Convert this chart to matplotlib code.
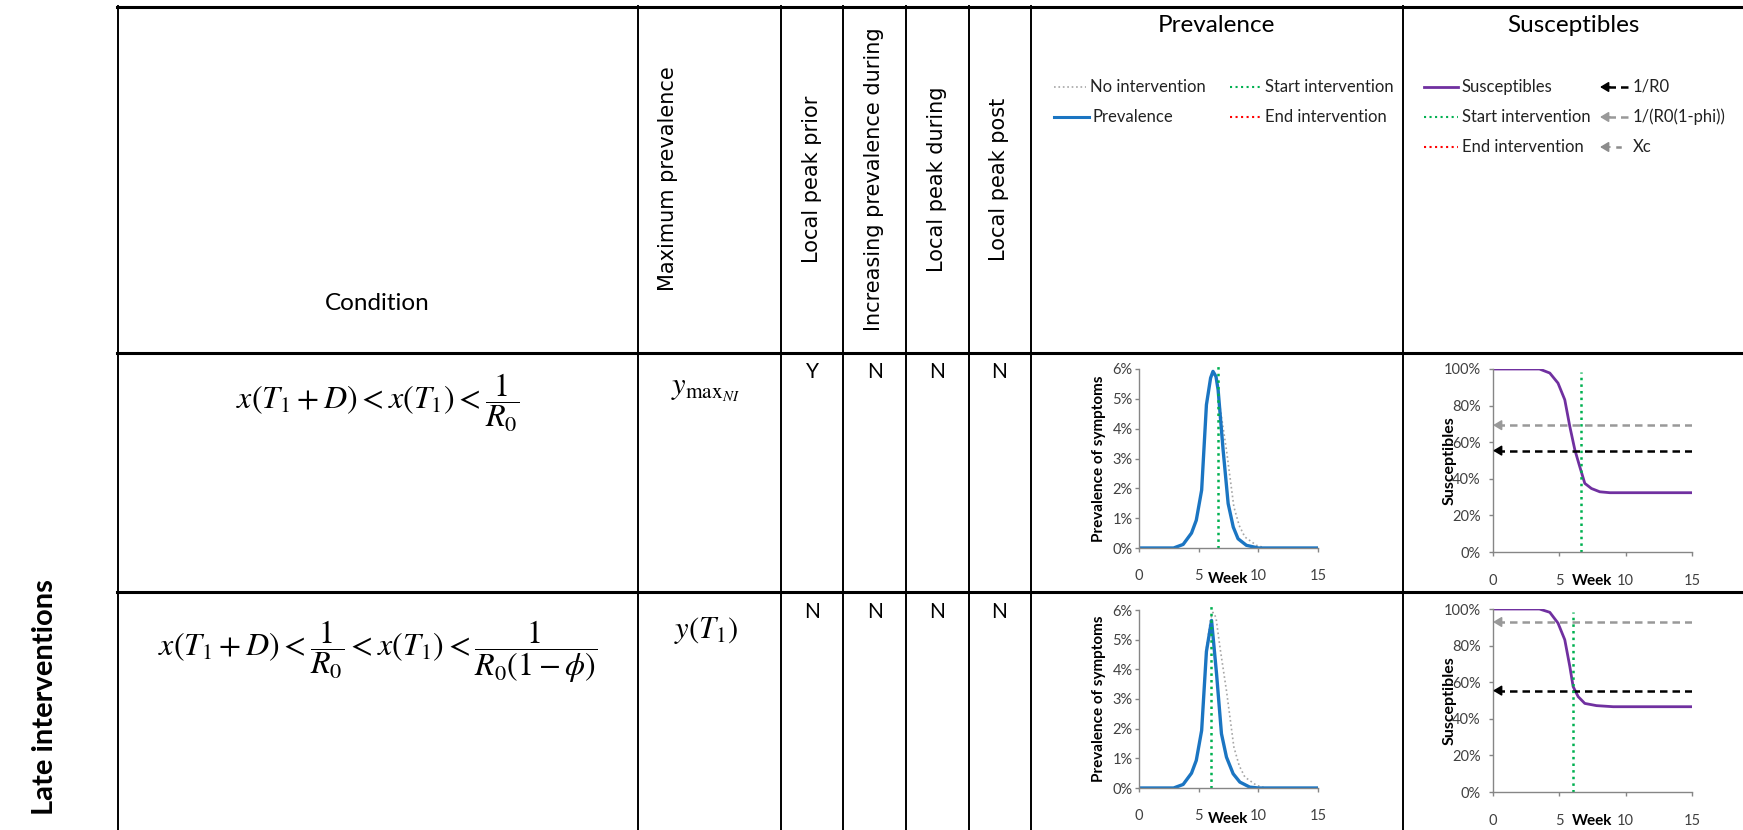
import matplotlib
matplotlib.use('Agg')
import matplotlib.pyplot as plt
from matplotlib.lines import Line2D
from matplotlib.patches import FancyArrowPatch

W, H = 1743, 830

# table text
header_cols = ['Maximum prevalence', 'Local peak prior', 'Increasing prevalence during',
               'Local peak during', 'Local peak post']
conditions = [r'$x\left(T_1+D\right)<x\left(T_1\right)<\dfrac{1}{R_0}$',
              r'$x\left(T_1+D\right)<\dfrac{1}{R_0}<x\left(T_1\right)<\dfrac{1}{R_0\left(1-\phi\right)}$']
max_prevalence = [r'$y_{\mathrm{max}_{NI}}$', r'$y\left(T_1\right)$']
flags = [['Y', 'N', 'N', 'N'],
         ['N', 'N', 'N', 'N']]
group_label = 'Late interventions'

# no intervention prevalence (%), same for both rows
ni_weeks = [0, 2.9, 3.7, 4.4, 4.8, 5.25, 5.65, 6.0, 6.2, 6.45, 6.8, 7.33, 7.95, 8.4, 8.87, 9.84, 10.6, 15]
ni_prev = [0, 0, 0.12, 0.5, 0.93, 1.94, 4.7, 5.7, 5.92, 5.75, 4.7, 3.28, 1.38, 0.75, 0.37, 0.09, 0, 0]

# prevalence with intervention (%)
prev_weeks = [[0, 2.9, 3.7, 4.4, 4.8, 5.25, 5.65, 6.0, 6.2, 6.45, 6.63, 7.05, 7.47, 7.9, 8.3, 9.0, 10.0, 15],
              [0, 2.9, 3.7, 4.4, 4.8, 5.25, 5.65, 6.08, 6.5, 6.91, 7.33, 7.89, 8.45, 9.28, 10.0, 15]]
prev_vals = [[0, 0, 0.12, 0.5, 0.93, 1.94, 4.8, 5.7, 5.92, 5.75, 5.3, 3.28, 1.49, 0.7, 0.31, 0.09, 0, 0],
             [0, 0, 0.12, 0.5, 0.93, 1.94, 4.6, 5.65, 3.84, 1.83, 1.04, 0.48, 0.2, 0.03, 0, 0]]

# susceptibles (%)
sus_weeks = [[0, 3.5, 4.28, 4.9, 5.41, 5.79, 6.17, 6.54, 6.92, 7.42, 8.05, 8.81, 15],
             [0, 3.5, 4.28, 4.9, 5.41, 5.79, 6.04, 6.42, 6.92, 7.8, 9.06, 15]]
sus_vals = [[100, 100, 97.8, 92.3, 83.2, 68.6, 55.8, 46.6, 37.5, 34.7, 32.9, 32.4, 32.4],
            [100, 100, 98.2, 92.3, 83.2, 68.6, 57.6, 52.1, 48.4, 47.2, 46.6, 46.6]]

start_week = [6.6, 6.05]
inv_r0 = [55.4, 55.4]
inv_r0_phi = [69.3, 92.9]

BLUE = '#1b75c2'
PURPLE = '#7030a0'
GREEN = '#00b050'
RED = '#ff0000'
GREY = '#a6a6a6'

plt.rcParams['mathtext.fontset'] = 'stix'
plt.rcParams['font.family'] = ['Lato', 'DejaVu Sans']

fig = plt.figure(figsize=(W / 100, H / 100), dpi=100)


def fx(x):
    return x / W


def fy(y):
    return 1 - y / H


def fline(x0, x1, y0, y1, **kw):
    fig.add_artist(Line2D([fx(x0), fx(x1)], [fy(y0), fy(y1)], transform=fig.transFigure, **kw))


# table grid
for y in [7, 353, 592]:
    fline(117, W, y, y, color='black', lw=2.2)
for x in [118, 638, 781, 843, 906, 969, 1031, 1403]:
    fline(x, x, 6, H, color='black', lw=1.4)

# header
fig.text(fx(377), fy(304), 'Condition', ha='center', va='center', fontsize=17.5)
for x, lab in zip([668, 812, 874, 937, 999], header_cols):
    fig.text(fx(x), fy(179), lab, rotation=90, ha='center', va='center',
             fontsize=15, family='DejaVu Sans')
fig.text(fx(1216), fy(25), 'Prevalence', ha='center', va='center', fontsize=17.5)
fig.text(fx(1573), fy(25), 'Susceptibles', ha='center', va='center', fontsize=17.5)
fig.text(fx(45), fy(697), group_label, rotation=90, ha='center', va='center',
         fontsize=21, fontweight='bold')


def legend_line(x0, x1, y, color, ls, lw, label):
    fline(x0, x1, y, y, color=color, ls=ls, lw=lw)
    fig.text(fx(x1 + 4), fy(y), label, ha='left', va='center', fontsize=12, color='#222222')


def legend_arrow(x0, x1, y, color, label, dot=False):
    if dot:
        fline(x0 + 17, x0 + 20, y, y, color=color, lw=1.8)
    else:
        fline(x0 + 8, x1, y, y, color=color, ls=(0, (3, 2)), lw=1.8)
    fig.add_artist(FancyArrowPatch((fx(x0 + 10), fy(y)), (fx(x0), fy(y)), transform=fig.transFigure,
                                   arrowstyle='-|>,head_length=0.5,head_width=0.3', mutation_scale=10,
                                   color=color, lw=1.2, shrinkA=0, shrinkB=0))
    fig.text(fx(x1 + 3), fy(y), label, ha='left', va='center', fontsize=12, color='#222222')


legend_line(1054, 1086, 87, GREY, ':', 1.2, 'No intervention')
legend_line(1054, 1089, 117, BLUE, '-', 2.2, 'Prevalence')
legend_line(1230, 1261, 87, GREEN, ':', 1.5, 'Start intervention')
legend_line(1230, 1261, 117, RED, ':', 1.5, 'End intervention')

legend_line(1424, 1458, 87, PURPLE, '-', 2.0, 'Susceptibles')
legend_line(1424, 1458, 117, GREEN, ':', 1.5, 'Start intervention')
legend_line(1424, 1458, 147, RED, ':', 1.5, 'End intervention')
legend_arrow(1600, 1630, 87, 'black', '1/R0')
legend_arrow(1600, 1630, 117, '#999999', '1/(R0(1-phi))')
legend_arrow(1600, 1630, 147, '#8c8c8c', 'Xc', dot=True)

# table body
row_mid = [[403, 390, 372], [652, 630, 612]]
for i in range(2):
    fig.text(fx(378), fy(row_mid[i][0]), conditions[i], ha='center', va='center', fontsize=23)
    fig.text(fx(706), fy(row_mid[i][1]), max_prevalence[i], ha='center', va='center', fontsize=22)
    for x, f in zip([812, 875, 937, 999], flags[i]):
        fig.text(fx(x), fy(row_mid[i][2]), f, ha='center', va='center', fontsize=15)


def add_box(x0, x1, y_top, y_bot):
    return fig.add_axes([fx(x0), fy(y_bot), fx(x1) - fx(x0), (y_bot - y_top) / H])


def style(ax, xpad, ypad):
    for s in ['top', 'right']:
        ax.spines[s].set_visible(False)
    for s in ['left', 'bottom']:
        ax.spines[s].set_color('#868686')
        ax.spines[s].set_linewidth(1.0)
    ax.set_facecolor('none')
    ax.tick_params(axis='both', colors='#868686', labelcolor='#404040', length=3, width=1, labelsize=10.5)
    ax.tick_params(axis='x', pad=xpad)
    ax.tick_params(axis='y', pad=ypad)
    ax.set_xlim(0, 15)
    ax.set_xticks([0, 5, 10, 15])


prev_boxes = [(369, 548), (610, 788)]
sus_boxes = [(369, 552), (609, 792)]

for i in range(2):
    ax = add_box(1139, 1318, *prev_boxes[i])
    style(ax, 12, 1.5)
    ax.plot(ni_weeks, ni_prev, color=GREY, ls=':', lw=1.2)
    ax.plot(prev_weeks[i], prev_vals[i], color=BLUE, lw=2.4)
    ax.axvline(start_week[i], ymin=0, ymax=1.02, color=GREEN, ls=':', lw=1.8, clip_on=False)
    ax.set_ylim(0, 6)
    ax.set_yticks(range(7))
    ax.set_yticklabels([f'{v}%' for v in range(7)])
    ax.text(0.5, -0.175, 'Week', transform=ax.transAxes, ha='center', va='center',
            fontsize=11, fontweight='bold')
    ax.text(-0.225, 0.5, 'Prevalence of symptoms', transform=ax.transAxes, rotation=90,
            ha='center', va='center', fontsize=11, fontweight='bold')

    ax = add_box(1493, 1692, *sus_boxes[i])
    style(ax, 13, 6)
    ax.plot(sus_weeks[i], sus_vals[i], color=PURPLE, lw=2.0)
    for y, c in [(inv_r0_phi[i], '#999999'), (inv_r0[i], 'black')]:
        ax.plot([0.3, 15], [y, y], color=c, ls=(0, (3, 2)), lw=1.8)
        ax.annotate('', xy=(0, y), xytext=(0.5, y),
                    arrowprops=dict(arrowstyle='-|>,head_length=0.5,head_width=0.3', color=c,
                                    lw=1.2, shrinkA=0, shrinkB=0))
    ax.axvline(start_week[i], ymin=0, ymax=0.985, color=GREEN, ls=':', lw=1.8)
    ax.set_ylim(0, 100)
    ax.set_yticks(range(0, 101, 20))
    ax.set_yticklabels([f'{v}%' for v in range(0, 101, 20)])
    ax.text(0.5, -0.16, 'Week', transform=ax.transAxes, ha='center', va='center',
            fontsize=11, fontweight='bold')
    ax.text(-0.216, 0.5, 'Susceptibles', transform=ax.transAxes, rotation=90,
            ha='center', va='center', fontsize=11.5, fontweight='bold')

fig.savefig('out.png', dpi=100)
